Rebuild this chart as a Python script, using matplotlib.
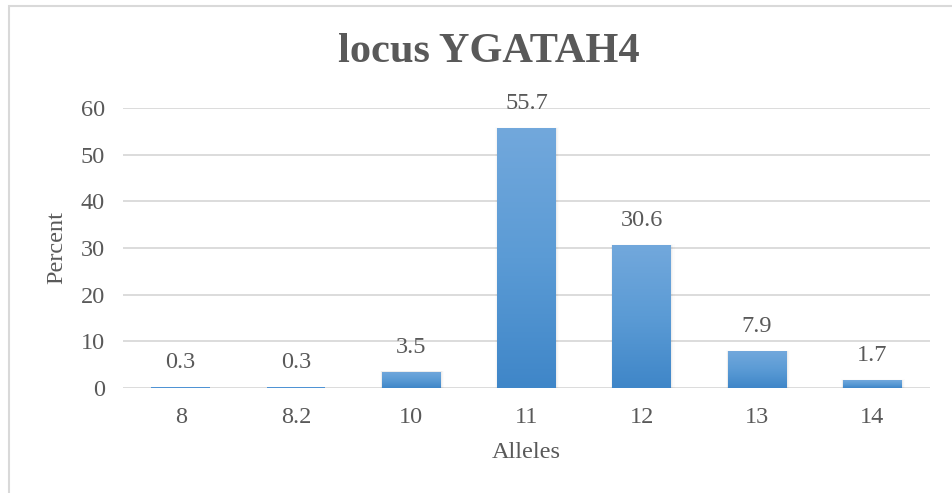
import matplotlib
matplotlib.use("Agg")
import matplotlib.pyplot as plt
import numpy as np
from matplotlib.patches import Rectangle
from matplotlib.colors import LinearSegmentedColormap

alleles = ["8", "8.2", "10", "11", "12", "13", "14"]
percent = [0.3, 0.3, 3.5, 55.7, 30.6, 7.9, 1.7]
y_ticks = [0, 10, 20, 30, 40, 50, 60]

TEXT = "#595959"
GRID = "#d9d9d9"
BLUE = "#4f93d4"
SERIF = ["Liberation Serif", "DejaVu Serif"]
FS = 17.5

W, H = 952, 493
fig = plt.figure(figsize=(W / 100, H / 100), dpi=100)
fig.patch.set_facecolor("white")

# outer chart frame (only the top and left edges fall inside the canvas)
fig.add_artist(Rectangle((9 / W, -0.1), 1.2, (H - 6) / H + 0.1, transform=fig.transFigure,
                         fill=False, edgecolor=GRID, linewidth=1.5))

ax = fig.add_axes([123 / W, (H - 388) / H, (930 - 123) / W, (388 - 108) / H])
ax.set_yticks(y_ticks)
ax.set_xticks(range(len(alleles)))
ax.set_xticklabels(alleles)
for s in ax.spines.values():
    s.set_visible(False)
ax.tick_params(length=0, labelsize=FS, colors=TEXT)
ax.tick_params(axis="y", pad=13)
ax.tick_params(axis="x", pad=14)
for lab in ax.get_xticklabels() + ax.get_yticklabels():
    lab.set_fontfamily(SERIF)
ax.grid(axis="y", color=GRID, linewidth=1.3)
ax.set_axisbelow(True)

grad = LinearSegmentedColormap.from_list("bar", ["#3f86c8", "#5b9bd5", "#72a8dc"])
gimg = np.linspace(0, 1, 256).reshape(-1, 1)
bw = 0.51
bars = ax.bar(range(len(alleles)), percent, width=bw, color=BLUE, edgecolor="none", zorder=3)
for i, (b, v) in enumerate(zip(bars, percent)):
    x0 = b.get_x()
    if v > 1:
        # soft shadow around the bar
        for k, a in enumerate([0.035, 0.022, 0.012]):
            d = 0.01 * (k + 1)
            ax.add_patch(Rectangle((x0 - d * 0.5, 0), bw + d * 1.5, v + d * 6,
                                   facecolor="black", alpha=a, edgecolor="none", zorder=2.5))
        im = ax.imshow(gimg, cmap=grad, aspect="auto", origin="lower",
                       extent=(x0, x0 + bw, 0, v), zorder=3.1)
        im.set_clip_path(b)
    ax.annotate(f"{v:.1f}", (i, v), xytext=(0, 10), textcoords="offset points",
                ha="center", va="bottom", fontsize=FS, color=TEXT, family=SERIF)
ax.set_xlim(-0.5, len(alleles) - 0.5)
ax.set_ylim(0, 60)

ax.set_xlabel("Alleles", fontsize=FS, color=TEXT, family=SERIF)
ax.xaxis.set_label_coords(526 / W, (H - 452) / H, transform=fig.transFigure)
ax.xaxis.label.set_va("center")
ax.set_ylabel("Percent", fontsize=FS, color=TEXT, family=SERIF)
ax.yaxis.set_label_coords(57 / W, (H - 247) / H, transform=fig.transFigure)
ax.yaxis.label.set_va("center")

fig.text(489 / W, (H - 52) / H, "locus YGATAH4", ha="center", va="center",
         fontsize=30.5, fontweight="bold", color=TEXT, family=SERIF)

fig.savefig("out.png", dpi=100)
